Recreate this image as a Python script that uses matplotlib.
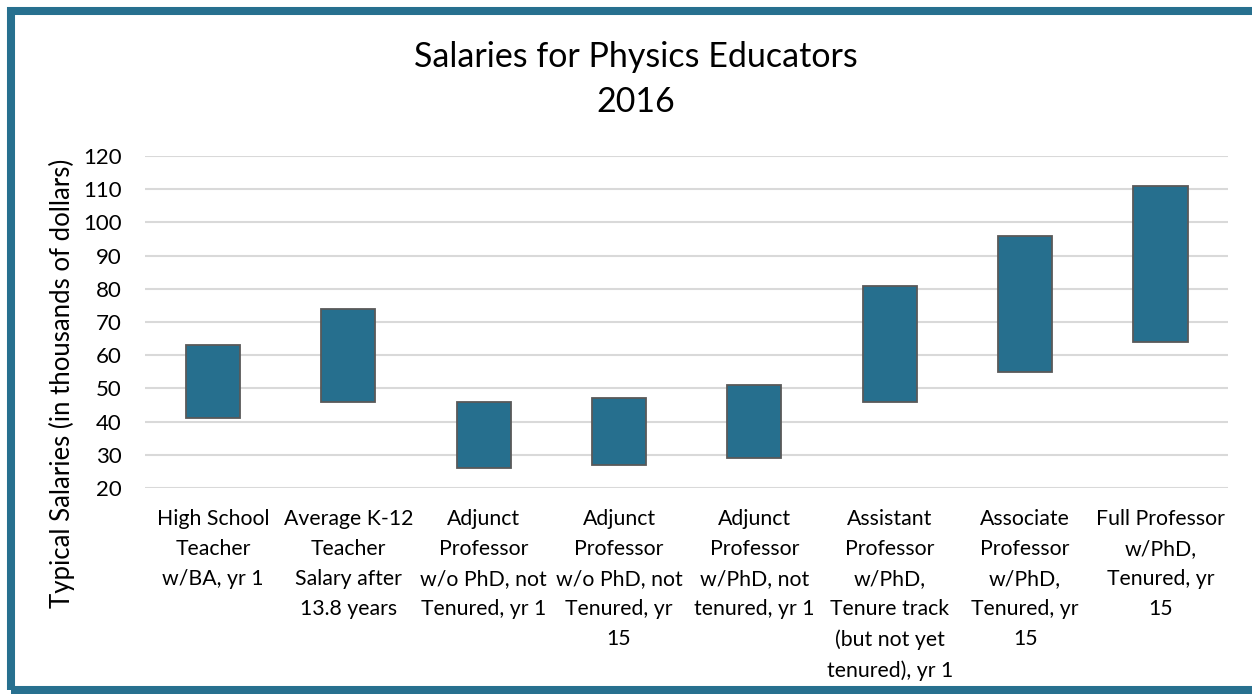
# Salaries for Physics Educators 2016 - floating bars (low to high)

import matplotlib.pyplot as plt
from matplotlib.patches import Rectangle

plt.rcParams['font.family'] = ['Lato', 'DejaVu Sans']

# categories and salary ranges (thousands of dollars)
categories = [
    "High School\nTeacher\nw/BA, yr 1",
    "Average K-12\nTeacher\nSalary after\n13.8 years",
    "Adjunct\nProfessor\nw/o PhD, not\nTenured, yr 1",
    "Adjunct\nProfessor\nw/o PhD, not\nTenured, yr\n15",
    "Adjunct\nProfessor\nw/PhD, not\ntenured, yr 1",
    "Assistant\nProfessor\nw/PhD,\nTenure track\n(but not yet\ntenured), yr 1",
    "Associate\nProfessor\nw/PhD,\nTenured, yr\n15",
    "Full Professor\nw/PhD,\nTenured, yr\n15",
]
low = [41, 46, 26, 27, 29, 46, 55, 64]
high = [63, 74, 46, 47, 51, 81, 96, 111]

bar_color = "#266F8E"

fig = plt.figure(figsize=(12.52, 6.94), dpi=100)
ax = fig.add_axes([0.116, 0.297, 0.865, 0.478])

x = range(len(categories))
heights = [h - l for h, l in zip(high, low)]
ax.bar(x, heights, bottom=low, width=0.4, color=bar_color,
       edgecolor="#595959", linewidth=1.3, zorder=3)

ax.set_ylim(20, 120)
ax.set_xlim(-0.5, len(categories) - 0.5)
ax.set_yticks(range(20, 121, 10))
ax.set_xticks(list(x))
ax.set_xticklabels(categories, fontsize=15.3, linespacing=1.63,
                   va="top", color="black")
ax.tick_params(axis="y", labelsize=16, length=0, pad=17)
ax.tick_params(axis="x", length=0, pad=15)
ax.grid(axis="y", color="#D9D9D9", linewidth=1.5, zorder=0)
for s in ax.spines.values():
    s.set_visible(False)

ax.set_ylabel("Typical Salaries (in thousands of dollars)", fontsize=18.5)
ax.yaxis.label.set_va("center")
ax.yaxis.set_label_coords(-0.0766, 0.315)

fig.text(0.508, 0.918, "Salaries for Physics Educators", ha="center", va="center",
         fontsize=24.5)
fig.text(0.508, 0.853, "2016", ha="center", va="center", fontsize=24.5)

# teal frame around the chart
W, H = 1252, 694
frame = Rectangle((11 / W, 4 / H), 1.05, (H - 15) / H, transform=fig.transFigure,
                  fill=False, edgecolor="#27708F", linewidth=5.8, clip_on=False)
fig.patches.append(frame)

fig.savefig("out.png", dpi=100)
